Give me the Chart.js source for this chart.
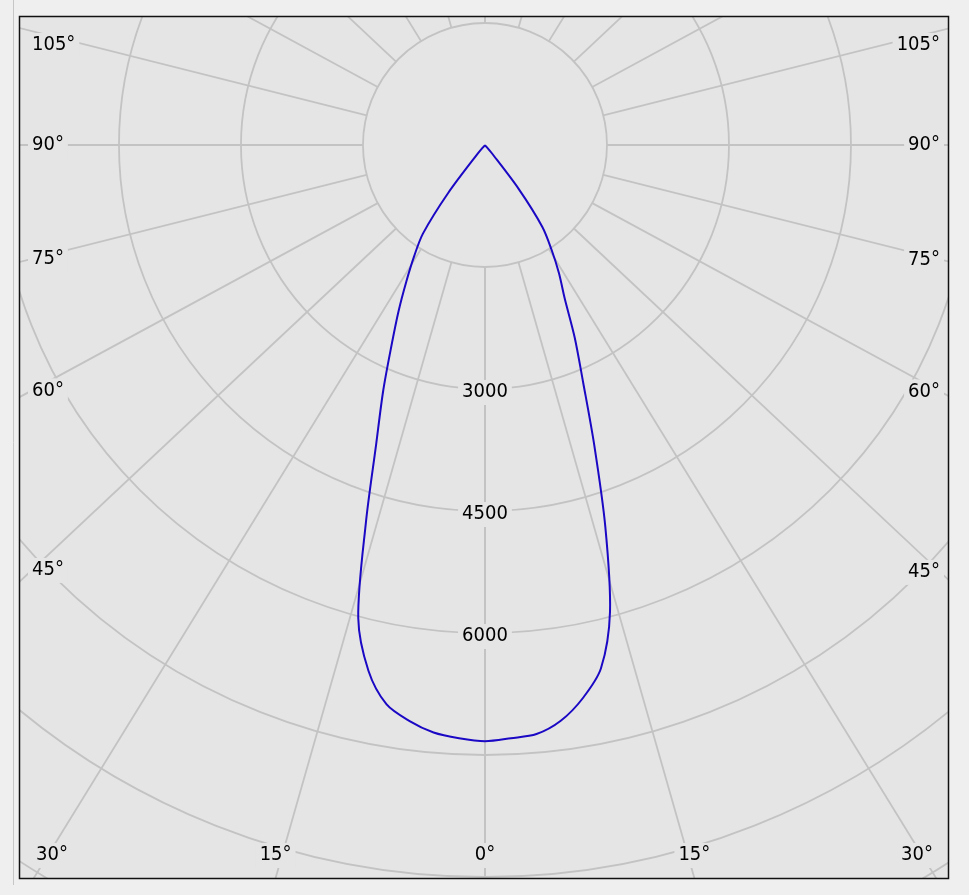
<!DOCTYPE html>
<html>
<head>
<meta charset="utf-8">
<script src="https://cdn.jsdelivr.net/npm/chart.js@4.4.1/dist/chart.umd.min.js"></script>
<style>
  html, body { margin: 0; padding: 0; background: #efefef; }
  canvas { display: block; }
</style>
</head>
<body>
<canvas id="chart" width="969" height="895"></canvas>
<script>
// gamma angle from nadir, degrees
const gammaAngles = [0, 2.5, 5, 7.5, 10, 12.5, 15, 17.5, 20, 22.5, 25, 27.5, 30, 32.5, 35, 37.5, 40, 42.5, 45, 50, 60, 70, 80, 90];
// luminous intensity, cd (left half = C180, right half = C0)
const intensityC180 = [7330, 7300, 7250, 7140, 6980, 6620, 6020, 4870, 3910, 3270, 2720, 2300, 1930, 1620, 1330, 740, 150, 0, 0, 0, 0, 0, 0, 0];
const intensityC0 = [7330, 7300, 7270, 7140, 6910, 6590, 5940, 4920, 3930, 3150, 2610, 2120, 1820, 1520, 1230, 680, 120, 0, 0, 0, 0, 0, 0, 0];

const ringValues = [1500, 3000, 4500, 6000, 7500, 9000, 10500, 12000];
const ringLabels = [3000, 4500, 6000];
const spokeAngles = [0, 15, 30, 45, 60, 75, 90, 105, 120, 135, 150, 165, 180];
const sideLabelAngles = [105, 90, 75, 60, 45];
const bottomLabelAngles = [30, 15, 0];

const SPOKE_STRETCH = 1.066;
const GRID_COLOR = "#c3c3c3";
const PLOT_BG = "#e5e5e5";
const LABEL_FONT = '20px "DejaVu Sans Condensed", "Noto Sans", sans-serif';

function toRad(deg) {
    return deg * Math.PI / 180;
}

function buildCurve() {
    const points = [];
    for (let i = gammaAngles.length - 1; i >= 0; i--) {
        const a = toRad(gammaAngles[i]);
        points.push({ x: -intensityC180[i] * Math.sin(a), y: -intensityC180[i] * Math.cos(a) });
    }
    for (let i = 1; i < gammaAngles.length; i++) {
        const a = toRad(gammaAngles[i]);
        points.push({ x: intensityC0[i] * Math.sin(a), y: -intensityC0[i] * Math.cos(a) });
    }
    return points;
}

function spokeDir(deg, side) {
    const a = toRad(deg);
    const dx = side * SPOKE_STRETCH * Math.sin(a);
    const dy = Math.cos(a);
    const len = Math.hypot(dx, dy);
    return { dx: dx / len, dy: dy / len };
}

function drawTag(ctx, text, x, y) {
    const w = ctx.measureText(text).width;
    ctx.fillStyle = PLOT_BG;
    ctx.fillRect(x - w / 2 - 4, y - 12, w + 8, 25);
    ctx.fillStyle = "#000";
    ctx.fillText(text, x, y);
}

const polarGrid = {
    id: "polarGrid",
    beforeDraw(chart) {
        const { ctx, chartArea: area } = chart;
        ctx.save();
        ctx.fillStyle = PLOT_BG;
        ctx.fillRect(area.left, area.top, area.width, area.height);
        ctx.restore();
    },
    beforeDatasetsDraw(chart) {
        const { ctx, chartArea: area, scales: { x, y } } = chart;
        const cx = x.getPixelForValue(0);
        const cy = y.getPixelForValue(0);
        const rpx = v => x.getPixelForValue(v) - cx;

        ctx.save();
        ctx.beginPath();
        ctx.rect(area.left, area.top, area.width, area.height);
        ctx.clip();

        ctx.strokeStyle = GRID_COLOR;
        ctx.lineWidth = 1.8;

        ringValues.forEach(v => {
            ctx.beginPath();
            ctx.arc(cx, cy, rpx(v), 0, Math.PI * 2);
            ctx.stroke();
        });

        const r0 = rpx(ringValues[0]);
        [-1, 1].forEach(side => {
            spokeAngles.forEach(deg => {
                const d = spokeDir(deg, side);
                ctx.beginPath();
                ctx.moveTo(cx + d.dx * r0, cy + d.dy * r0);
                ctx.lineTo(cx + d.dx * 2000, cy + d.dy * 2000);
                ctx.stroke();
            });
        });

        ctx.font = LABEL_FONT;
        ctx.textAlign = "center";
        ctx.textBaseline = "middle";

        ringLabels.forEach(v => {
            drawTag(ctx, String(v), cx, cy + rpx(v) + 3);
        });

        // side labels sit on their spoke where the text starts, kept clear of the top edge
        sideLabelAngles.forEach(deg => {
            const text = deg + "°";
            const w = ctx.measureText(text).width;
            [-1, 1].forEach(side => {
                const d = spokeDir(deg, side);
                const edge = side < 0 ? area.left + 12 : area.right - 8;
                const tx = side < 0 ? edge + w / 2 : edge - w / 2;
                const ty = cy + ((edge - cx) / d.dx) * d.dy;
                drawTag(ctx, text, tx, Math.max(ty, area.top + 28));
            });
        });

        // bottom labels follow the spoke's crossing of the bottom edge
        const by = area.bottom - 23;
        bottomLabelAngles.forEach(deg => {
            const text = deg + "°";
            const sides = deg === 0 ? [1] : [-1, 1];
            sides.forEach(side => {
                const d = spokeDir(deg, side);
                const bx = cx + ((area.bottom - cy) / d.dy) * d.dx;
                const tx = Math.min(Math.max(bx, area.left + 32), area.right - 31);
                drawTag(ctx, text, tx, by);
            });
        });

        ctx.restore();
    },
    afterDraw(chart) {
        const { ctx, chartArea: area } = chart;
        ctx.save();
        ctx.strokeStyle = "#111";
        ctx.lineWidth = 1.5;
        ctx.strokeRect(area.left - 0.5, area.top - 0.5, area.width + 1, area.height + 1);
        ctx.strokeStyle = "#c6c6c6";
        ctx.lineWidth = 1;
        ctx.beginPath();
        ctx.moveTo(13.5, 0);
        ctx.lineTo(13.5, 885);
        ctx.stroke();
        ctx.restore();
    }
};

new Chart(document.getElementById("chart").getContext("2d"), {
    type: "scatter",
    data: {
        datasets: [{
            data: buildCurve(),
            showLine: true,
            pointRadius: 0,
            borderColor: "#1a08c4",
            borderWidth: 2,
            tension: 0.3
        }]
    },
    options: {
        responsive: false,
        animation: false,
        devicePixelRatio: 1,
        layout: {
            padding: { left: 20, top: 17, right: 21, bottom: 17 }
        },
        scales: {
            x: {
                type: "linear",
                min: -5717,
                max: 5693,
                display: false
            },
            y: {
                type: "linear",
                min: -9012,
                max: 1574,
                display: false
            }
        },
        plugins: {
            legend: { display: false },
            tooltip: { enabled: false }
        }
    },
    plugins: [polarGrid]
});
</script>
</body>
</html>
